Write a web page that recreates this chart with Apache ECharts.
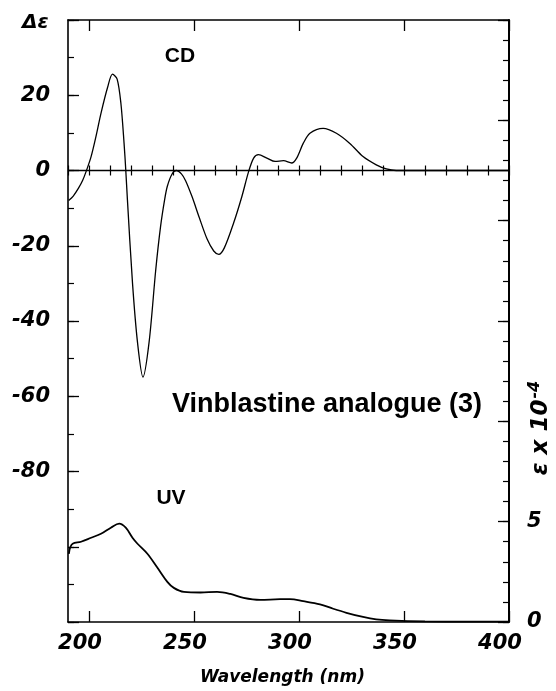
<!DOCTYPE html>
<html>
<head>
<meta charset="utf-8">
<script src="https://cdn.jsdelivr.net/npm/echarts@6/dist/echarts.min.js"></script>
<style>
html,body{margin:0;padding:0;background:#fff;}
#chart{width:556px;height:691px;}
</style>
</head>
<body>
<div id="chart"></div>
<script>
// CD spectrum: [wavelength nm, Δε]
var cdData = [
  [190.3,-8.0],[192.5,-6.8],[195,-4.7],[197,-2.6],[198.6,-0.3],[201,3.7],[203.3,9],
  [205.7,15.2],[208.9,22.2],[211.2,25.6],[213.4,24.3],[215.2,17.8],[216.7,7.2],[217.5,0.2],
  [218.3,-7.8],[220.7,-29.8],[223.1,-45.7],[225.7,-54.9],[228.6,-45.7],[231.8,-26.3],
  [234.1,-14.8],[236,-7.8],[237.3,-4.2],[239.5,-1.0],[241.6,0],[244,-0.9],[246,-2.7],
  [249.1,-7.0],[252.5,-12.5],[256.3,-18.3],[259.4,-21.4],[261.8,-22.3],[264.5,-20.5],
  [268.9,-13.9],[272.8,-6.9],[276,-0.3],[278.4,3.3],[280.7,4.2],[284.7,3.3],[288.6,2.4],
  [292.6,2.6],[296.5,2.0],[298.9,3.3],[302,7.2],[305.2,9.9],[311.5,11.2],[317.8,9.9],
  [324.2,7.2],[330.5,3.7],[336.8,1.5],[341.6,0.4],[346.3,0],[360,0],[380,0],[400,0]
];
// UV spectrum: [wavelength nm, ε x 10^-4]
var uvData = [
  [190.4,3.4],[191,3.7],[192.2,3.9],[196.2,4.0],[201,4.2],[205.7,4.4],[210.4,4.7],
  [214.4,4.9],[217.5,4.7],[220.7,4.2],[223.1,3.9],[227.8,3.4],[232.6,2.7],[237.3,2.0],
  [240.4,1.7],[245.2,1.5],[253.1,1.47],[261,1.5],[267.3,1.4],[273.6,1.2],[281.5,1.1],
  [291,1.14],[295.7,1.14],[302,1.04],[310,0.88],[316.3,0.66],[322.6,0.46],[330.5,0.25],
  [336.8,0.13],[343.1,0.08],[360,0.03],[380,0.02],[400,0.02]
];
var xMajorTicks = [200,250,300,350,400];
var xLabels = [200,250,300,350,400];
var leftMajorTicks = [-120,-100,-80,-60,-40,-20,0,20,40];
var leftLabels = [-80,-60,-40,-20,0,20];
var rightMajorTicks = [0,5,10,15,20,25,30];
var rightLabels = [0,5];

var chart = echarts.init(document.getElementById('chart'), null, {renderer:'canvas'});
var black = '#000';
var lblFont = {fontFamily:'DejaVu Sans', fontStyle:'italic', fontWeight:'bold', fontSize:21, color:black};

var option = {
  backgroundColor:'#fff',
  animation:false,
  grid:{left:68, top:20, right:47, bottom:66, containLabel:false},
  xAxis:[
    {type:'value', min:190, max:400, position:'bottom',
     axisLine:{show:true, onZero:false, lineStyle:{color:black, width:1.6}},
     axisTick:{show:true, inside:true, length:11, customValues:xMajorTicks, lineStyle:{color:black, width:1.3}},
     axisLabel:Object.assign({customValues:xLabels, margin:11, padding:[0,18,0,0]}, lblFont),
     splitLine:{show:false},
     name:'Wavelength (nm)', nameLocation:'middle', nameGap:47,
     nameTextStyle:{fontFamily:'DejaVu Sans', fontStyle:'italic', fontWeight:'bold', fontSize:17, color:black, padding:[0,12,0,0]}},
    {type:'value', min:190, max:400, interval:10, position:'bottom',
     axisLine:{show:false}, axisTick:{show:true, inside:true, length:5, lineStyle:{color:black, width:1.2}},
     axisLabel:{show:false}, splitLine:{show:false}},
    {type:'value', min:190, max:400, position:'top',
     axisLine:{show:true, onZero:false, lineStyle:{color:black, width:1.6}},
     axisTick:{show:true, inside:true, length:11, customValues:xMajorTicks, lineStyle:{color:black, width:1.3}},
     axisLabel:{show:false}, splitLine:{show:false}},
    {type:'value', min:190, max:400, interval:10, position:'top',
     axisLine:{show:false}, axisTick:{show:true, inside:true, length:5, lineStyle:{color:black, width:1.2}},
     axisLabel:{show:false}, splitLine:{show:false}}
  ],
  yAxis:[
    {type:'value', min:-120, max:40, position:'left',
     axisLine:{show:true, onZero:false, lineStyle:{color:black, width:1.6}},
     axisTick:{show:true, inside:true, length:11, customValues:leftMajorTicks, lineStyle:{color:black, width:1.3}},
     axisLabel:Object.assign({customValues:leftLabels, margin:18}, lblFont),
     splitLine:{show:false}},
    {type:'value', min:-120, max:40, interval:10, position:'left',
     axisLine:{show:false}, axisTick:{show:true, inside:true, length:6, lineStyle:{color:black, width:1.2}},
     axisLabel:{show:false}, splitLine:{show:false}},
    {type:'value', min:0, max:30, position:'right',
     axisLine:{show:true, onZero:false, lineStyle:{color:black, width:2}},
     axisTick:{show:true, inside:true, length:11, customValues:rightMajorTicks, lineStyle:{color:black, width:1.3}},
     axisLabel:Object.assign({customValues:rightLabels, margin:18}, lblFont),
     splitLine:{show:false}},
    {type:'value', min:0, max:30, interval:1, position:'right',
     axisLine:{show:false}, axisTick:{show:true, inside:true, length:6, lineStyle:{color:black, width:1.2}},
     axisLabel:{show:false}, splitLine:{show:false}}
  ],
  series:[
    {name:'CD', type:'line', xAxisIndex:0, yAxisIndex:0, data:cdData, smooth:0.3,
     showSymbol:false, lineStyle:{color:black, width:1.3}, itemStyle:{color:black}, silent:true,
     markLine:{silent:true, symbol:['none','none'], label:{show:false},
       lineStyle:{color:black, type:'solid', width:1.4}, data:[{yAxis:0}]}},
    {name:'UV', type:'line', xAxisIndex:0, yAxisIndex:2, data:uvData, smooth:0.35,
     showSymbol:false, lineStyle:{color:black, width:1.8}, itemStyle:{color:black}, silent:true}
  ],
  graphic:[
    {type:'text', left:22, top:13, style:{text:'Δε', font:'italic bold 20px "DejaVu Sans"', fill:black}},
    {type:'text', x:180, y:56, style:{text:'CD', font:'bold 21px "Liberation Sans"', fill:black, align:'center', verticalAlign:'middle'}},
    {type:'text', x:171, y:498, style:{text:'UV', font:'bold 21px "Liberation Sans"', fill:black, align:'center', verticalAlign:'middle'}},
    {type:'text', x:327, y:405, style:{text:'Vinblastine analogue (3)', font:'bold 27px "Liberation Sans"', fill:black, align:'center', verticalAlign:'middle'}},
    {type:'text', x:541, y:428, rotation:Math.PI/2,
     style:{text:'ε x 10{sup|-4}', font:'italic bold 23px "DejaVu Sans"', fill:black, align:'center', verticalAlign:'middle',
       rich:{sup:{font:'italic bold 16px "DejaVu Sans"', fill:black, verticalAlign:'top', padding:[0,0,12,1]}}}}
  ]
};
chart.setOption(option);
</script>
</body>
</html>
